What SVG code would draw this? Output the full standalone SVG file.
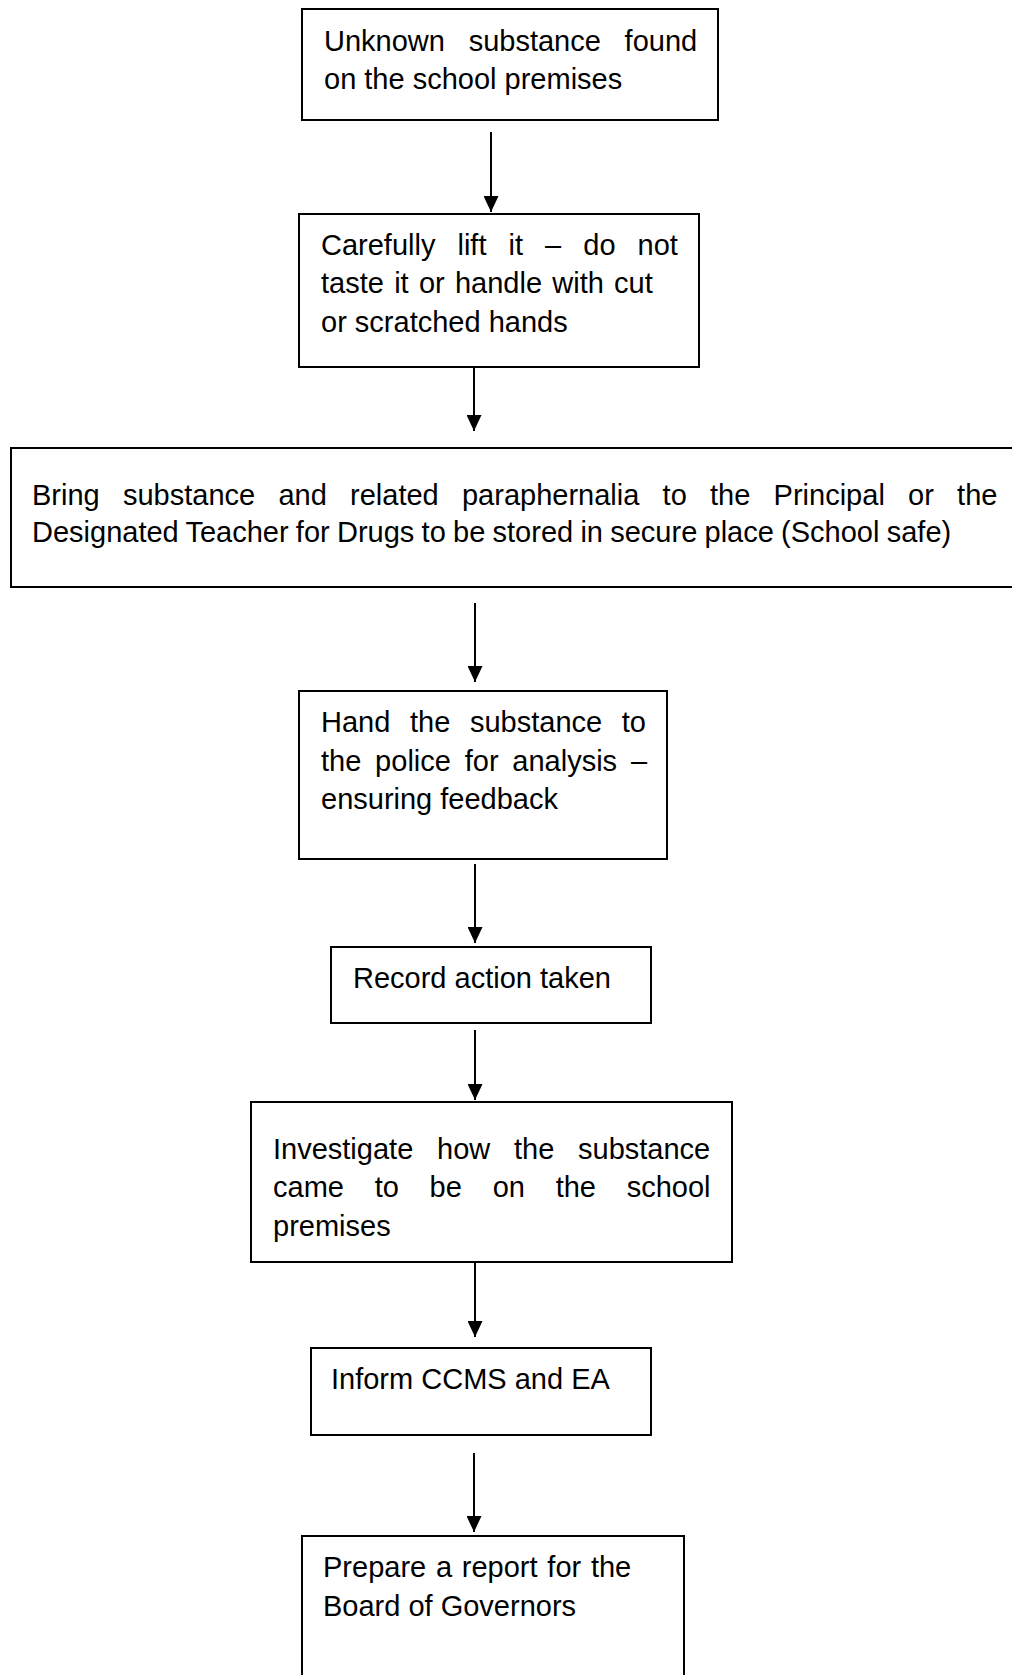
<svg xmlns="http://www.w3.org/2000/svg" width="1012" height="1675" viewBox="0 0 1012 1675">
<style>
.box{fill:#ffffff;stroke:#000000;stroke-width:2}
.t{font-family:"Liberation Sans",Arial,sans-serif;font-size:29px;fill:#000000}
.c{stroke:#000000;stroke-width:2;fill:none}
</style>
<defs>
<marker id="ah" markerUnits="userSpaceOnUse" viewBox="0 0 16 15" markerWidth="16" markerHeight="15" refX="16" refY="7.5" orient="auto">
<path d="M0,0 L16,7.5 L0,15 Z" fill="#000000"/>
</marker>
</defs>
<rect width="1012" height="1675" fill="#ffffff"/>
<g id="connectors">
<line class="c" x1="491" y1="132" x2="491" y2="212" marker-end="url(#ah)"/>
<line class="c" x1="474" y1="368" x2="474" y2="431" marker-end="url(#ah)"/>
<line class="c" x1="475" y1="603" x2="475" y2="682" marker-end="url(#ah)"/>
<line class="c" x1="475" y1="864" x2="475" y2="943" marker-end="url(#ah)"/>
<line class="c" x1="475" y1="1030" x2="475" y2="1100" marker-end="url(#ah)"/>
<line class="c" x1="475" y1="1259" x2="475" y2="1337" marker-end="url(#ah)"/>
<line class="c" x1="474" y1="1453" x2="474" y2="1532" marker-end="url(#ah)"/>
</g>
<g id="n1">
<rect class="box" x="302" y="9" width="416" height="111"/>
<text class="t" x="324" y="51" word-spacing="15.7">Unknown substance found</text>
<text class="t" x="324" y="89">on the school premises</text>
</g>
<g id="n2">
<rect class="box" x="299" y="214" width="400" height="153"/>
<text class="t" x="321" y="255" word-spacing="14">Carefully lift it – do not</text>
<text class="t" x="321" y="293" word-spacing="2.2">taste it or handle with cut</text>
<text class="t" x="321" y="332">or scratched hands</text>
</g>
<g id="n3">
<rect class="box" x="11" y="448" width="1003" height="139"/>
<text class="t" x="32" y="505" word-spacing="15.2">Bring substance and related paraphernalia to the Principal or the</text>
<text class="t" x="32" y="542" word-spacing="-0.8">Designated Teacher for Drugs to be stored in secure place (School safe)</text>
</g>
<g id="n4">
<rect class="box" x="299" y="691" width="368" height="168"/>
<text class="t" x="321" y="732" word-spacing="11.6">Hand the substance to</text>
<text class="t" x="321" y="771" word-spacing="5.75">the police for analysis –</text>
<text class="t" x="321" y="809">ensuring feedback</text>
</g>
<g id="n5">
<rect class="box" x="331" y="947" width="320" height="76"/>
<text class="t" x="353" y="988">Record action taken</text>
</g>
<g id="n6">
<rect class="box" x="251" y="1102" width="481" height="160"/>
<text class="t" x="273" y="1159" word-spacing="15.7">Investigate how the substance</text>
<text class="t" x="273" y="1197" word-spacing="22.7">came to be on the school</text>
<text class="t" x="273" y="1236">premises</text>
</g>
<g id="n7">
<rect class="box" x="311" y="1348" width="340" height="87"/>
<text class="t" x="331" y="1389">Inform CCMS and EA</text>
</g>
<g id="n8">
<rect class="box" x="302" y="1536" width="382" height="160"/>
<text class="t" x="323" y="1577" word-spacing="1.7">Prepare a report for the</text>
<text class="t" x="323" y="1616">Board of Governors</text>
</g>
</svg>
